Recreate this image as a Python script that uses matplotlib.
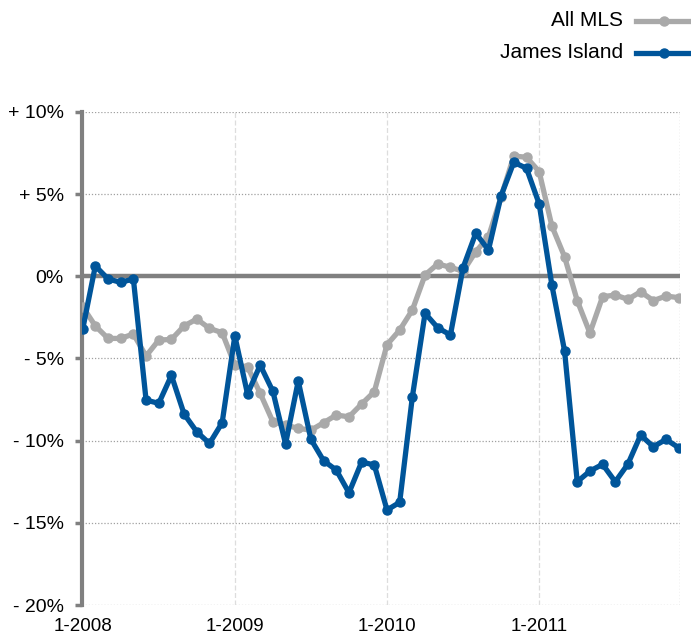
import matplotlib
matplotlib.use("Agg")
import matplotlib.pyplot as plt
from matplotlib.lines import Line2D

plt.rcParams['font.family'] = ['Liberation Sans', 'DejaVu Sans']

months = list(range(48))
all_mls = [-1.85, -3.02, -3.78, -3.78, -3.51, -4.85, -3.88, -3.84, -3.02, -2.60, -3.17, -3.43,
           -5.40, -5.50, -7.12, -8.85, -9.05, -9.25, -9.36, -8.91, -8.44, -8.55, -7.77, -7.02,
           -4.16, -3.27, -2.05, 0.08, 0.75, 0.55, 0.30, 1.50, 2.40, 4.85, 7.32, 7.24,
           6.37, 3.06, 1.19, -1.48, -3.45, -1.24, -1.14, -1.40, -0.94, -1.48, -1.20, -1.30]
james_island = [-3.23, 0.63, -0.16, -0.37, -0.16, -7.53, -7.73, -6.03, -8.38, -9.46, -10.17, -8.91,
                -3.63, -7.16, -5.40, -7.00, -10.20, -6.37, -9.92, -11.22, -11.79, -13.17, -11.30, -11.48,
                -14.22, -13.75, -7.33, -2.25, -3.13, -3.57, 0.53, 2.62, 1.60, 4.91, 6.94, 6.57,
                4.40, -0.53, -4.53, -12.50, -11.85, -11.44, -12.50, -11.42, -9.66, -10.37, -9.92, -10.43]
x_ticks = [0, 12, 24, 36]
x_labels = ['1-2008', '1-2009', '1-2010', '1-2011']
y_ticks = [10, 5, 0, -5, -10, -15, -20]
y_labels = ['+ 10%', '+ 5%', '0%', '- 5%', '- 10%', '- 15%', '- 20%']

gray = '#a9a9a9'
blue = '#00559a'
axis_gray = '#808080'

fig = plt.figure(figsize=(6.91, 6.36), dpi=100)
ax = fig.add_axes([0.1187, 0.0487, 0.984 - 0.1187, 0.824 - 0.0487])

# grid
for yv in y_ticks:
    if yv != 0:
        ax.axhline(yv, color='#a0a0a0', lw=0.9, ls=(0, (1, 1.5)), zorder=1)
for xv in x_ticks[1:]:
    ax.axvline(xv, color='#dddddd', lw=0.9, ls=(0, (4, 2)), zorder=1)
ax.axvline(47.1, color='#a0a0a0', lw=0.9, ls=(0, (1, 1.5)), zorder=1)
ax.axhline(0, color=axis_gray, lw=3.2, zorder=2)

ax.plot(months, all_mls, color=gray, lw=3.8, marker='o', ms=6.5, zorder=3, solid_joinstyle='round')
ax.plot(months, james_island, color=blue, lw=3.8, marker='o', ms=6.5, zorder=4, solid_joinstyle='round')

ax.set_xlim(-0.05, 47.1)
ax.set_ylim(-20, 10)
ax.set_xticks(x_ticks)
ax.set_xticklabels(x_labels, fontsize=13.5)
ax.set_yticks(y_ticks)
ax.set_yticklabels(y_labels, fontsize=14)
for s in ['top', 'right', 'bottom']:
    ax.spines[s].set_visible(False)
ax.spines['left'].set_color(axis_gray)
ax.spines['left'].set_linewidth(3)
ax.tick_params(axis='y', length=5, width=2.5, color=axis_gray, pad=8)
ax.tick_params(axis='x', length=0, pad=9.5)

# legend
fig.text(623 / 691, 1 - 21 / 636, 'All MLS', ha='right', va='center', fontsize=15)
fig.text(623 / 691, 1 - 52 / 636, 'James Island', ha='right', va='center', fontsize=15)
for yy, c in [(21, gray), (53, blue)]:
    fig.add_artist(Line2D([636 / 691, 1.0], [1 - yy / 636] * 2, color=c, lw=3.8,
                          transform=fig.transFigure))
    fig.add_artist(Line2D([664 / 691], [1 - yy / 636], color=c, marker='o', ms=6.5,
                          transform=fig.transFigure))

fig.savefig('out.png', dpi=100)
